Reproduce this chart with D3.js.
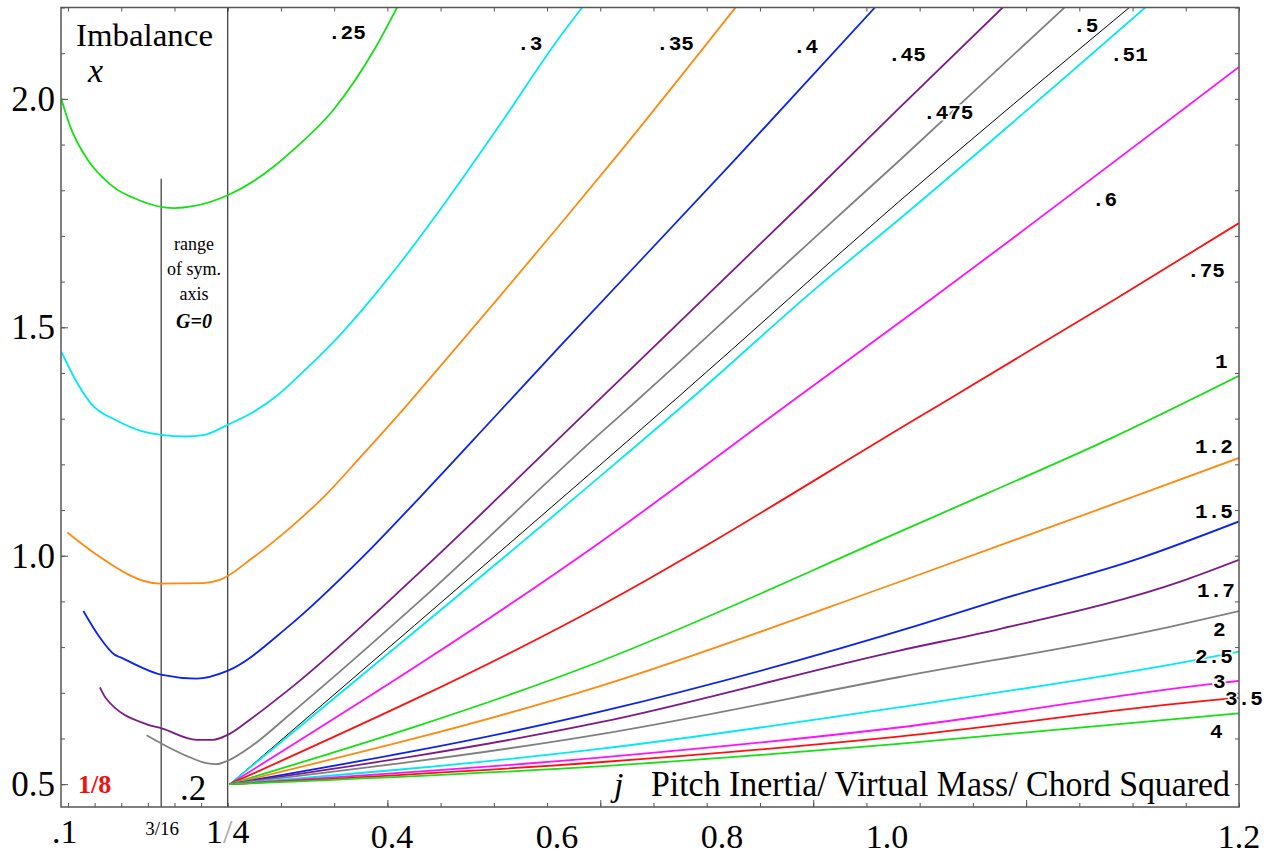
<!DOCTYPE html>
<html>
<head>
<meta charset="utf-8">
<script src="https://cdn.jsdelivr.net/npm/d3@7"></script>
<style>
body { margin: 0; background: #fff; }
</style>
</head>
<body>
<svg id="chart" width="1266" height="856"></svg>
<script>
// curves: [j, x]
const c025 = [[0.0934,2.002],[0.1018,1.941],[0.119,1.865],[0.139,1.814],[0.168,1.777],[0.189,1.763],[0.2003,1.761],[0.2175,1.765],[0.25,1.789],[0.294,1.853],[0.31,1.885],[0.349,1.975],[0.389,2.113],[0.41,2.204]];
const c030 = [[0.0941,1.445],[0.1049,1.394],[0.122,1.332],[0.1457,1.296],[0.1675,1.274],[0.1894,1.264],[0.2098,1.261],[0.227,1.264],[0.2503,1.287],[0.2737,1.314],[0.2956,1.349],[0.3237,1.409],[0.355,1.482],[0.386,1.565],[0.4175,1.657],[0.4488,1.755],[0.505,1.941],[0.564,2.142],[0.583,2.2]];
const c035 = [[0.0994,1.051],[0.1113,1.029],[0.127,1.002],[0.186,0.939],[0.227,0.94],[0.2425,0.947],[0.2737,0.996],[0.311,1.066],[0.3425,1.134],[0.374,1.214],[0.411,1.31],[0.449,1.413],[0.505,1.566],[0.564,1.73],[0.613,1.868],[0.727,2.2]];
const c040 = [[0.1144,0.879],[0.1284,0.826],[0.144,0.783],[0.1488,0.778],[0.1884,0.739],[0.2207,0.731],[0.2497,0.748],[0.308,0.847],[0.375,0.993],[0.433,1.134],[0.5,1.302],[0.564,1.463],[0.727,1.868],[0.858,2.2]];
const c045 = [[0.130,0.712],[0.1356,0.688],[0.174,0.631],[0.188,0.622],[0.2207,0.597],[0.236,0.597],[0.25,0.608],[0.273,0.645],[0.308,0.708],[0.43,0.963],[0.58,1.299],[0.805,1.806],[0.88,1.978],[0.978,2.2]];
const c0475 = [[0.1738,0.607],[0.1884,0.588],[0.2113,0.562],[0.23,0.546],[0.2394,0.544],[0.2497,0.551],[0.2734,0.585],[0.308,0.652],[0.43,0.900],[0.599,1.266],[0.636,1.343],[0.805,1.704],[0.88,1.863],[1.0375,2.203]];
const c050 = [[0.252,0.5],[0.599,1.197],[0.671,1.343],[0.88,1.774],[1.097,2.2]];
const c051 = [[0.252,0.5],[0.599,1.172],[0.685,1.343],[0.805,1.59],[0.88,1.735],[1.112,2.2]];
const c060 = [[0.252,0.5],[0.599,1.028],[0.783,1.343],[0.911,1.562],[1.2,2.07]];
const c075 = [[0.252,0.5],[0.599,0.889],[0.899,1.303],[1.084,1.562],[1.2,1.728]];
const c100 = [[0.252,0.5],[0.599,0.768],[0.88,1.051],[0.964,1.137],[1.075,1.252],[1.2,1.394]];
const c120 = [[0.252,0.5],[0.599,0.714],[0.88,0.942],[1.11,1.137],[1.2,1.214]];
const c150 = [[0.252,0.5],[0.599,0.658],[0.899,0.848],[0.98,0.907],[1.105,0.993],[1.2,1.075]];
const c170 = [[0.252,0.5],[0.599,0.635],[0.88,0.792],[0.974,0.839],[1.147,0.945],[1.2,0.991]];
const c200 = [[0.252,0.5],[0.599,0.609],[0.88,0.734],[1.124,0.839],[1.2,0.879]];
const c250 = [[0.252,0.5],[0.599,0.577],[0.88,0.668],[1.155,0.770],[1.2,0.790]];
const c300 = [[0.252,0.5],[0.599,0.558],[0.88,0.624],[1.173,0.719],[1.2,0.726]];
const c350 = [[0.252,0.5],[0.599,0.548],[0.88,0.604],[1.18,0.685],[1.2,0.689]];
const c400 = [[0.252,0.5],[0.599,0.539],[0.88,0.588],[1.2,0.655]];

const curves = [c025,c030,c035,c040,c045,c0475,c050,c051,c060,c075,c100,c120,c150,c170,c200,c250,c300,c350,c400];
const curveNames = [".25",".3",".35",".4",".45",".475",".5",".51",".6",".75","1","1.2","1.5","1.7","2","2.5","3","3.5","4"];
const curveColors = ["#14e014","#00eaf0","#ff8a10","#0a22f0","#7c1a88","#808080","#000000","#00eaf0","#ff10ff","#ff1010",
                     "#14e014","#ff8a10","#0a22f0","#7c1a88","#808080","#00eaf0","#ff10ff","#ff1010","#14e014"];
// where each curve's name sits, [j, x]
const namePos = [[0.3442,2.131],[0.5218,2.107],[0.6524,2.107],[0.781,2.100],[0.8703,2.083],[0.9032,1.956],[1.0441,2.146],[1.0788,2.083],
                 [1.0619,1.765],[1.1512,1.610],[1.1775,1.411],[1.1587,1.225],[1.1587,1.0825],[1.1606,0.9096],[1.1756,0.8243],
                 [1.1587,0.7652],[1.1756,0.7105],[1.1869,0.6732],[1.1728,0.601]];

// axis labels
const xLabelText = [".1","3/16","1/4","0.4","0.6","0.8","1.0","1.2"];
const xLabelPos = [0.097,0.1883,0.25,0.4043,0.5593,0.7144,0.8694,1.2];
const yLabelVals = [0.5,1.0,1.5,2.0];
const symAxis = [0.1875,0.25];

const svg = d3.select("#chart");
const W = 1266, H = 856;
svg.append("rect").attr("width",W).attr("height",H).attr("fill","#fff");

const xScale = d3.scaleLinear().domain([0.0934,1.2]).range([61,1239]);
const yScale = d3.scaleLinear().domain([0.45,2.2]).range([807,7.5]);

// clip for the curves
svg.append("clipPath").attr("id","plotclip")
   .append("rect")
   .attr("x",xScale.range()[0]).attr("y",yScale.range()[1])
   .attr("width",xScale.range()[1]-xScale.range()[0])
   .attr("height",yScale.range()[0]-yScale.range()[1]);

// frame ticks (inward)
const bottomTicks = [0.1,0.125,0.15,0.175,0.2,0.225].concat(d3.range(0.25,1.2001,0.05));
const topTicks = d3.range(0.1,1.2001,0.05);
const yTicks = d3.range(0.5,2.2001,0.1);

function tickAxis(axis, tx, ty) {
  const g = svg.append("g").attr("transform","translate("+tx+","+ty+")").call(axis);
  g.select(".domain").remove();
  g.selectAll("line").attr("stroke","#555").attr("stroke-width",1);
  g.selectAll("text").remove();
}
tickAxis(d3.axisBottom(xScale).tickValues(bottomTicks).tickSize(-4).tickSizeOuter(0), 0, 807);
tickAxis(d3.axisBottom(xScale).tickValues([0.4,0.6,0.8,1.0]).tickSize(-7).tickSizeOuter(0), 0, 807);
tickAxis(d3.axisTop(xScale).tickValues(topTicks).tickSize(-4).tickSizeOuter(0), 0, 7.5);
tickAxis(d3.axisLeft(yScale).tickValues(yTicks).tickSize(-4).tickSizeOuter(0), 61, 0);
tickAxis(d3.axisLeft(yScale).tickValues(yLabelVals).tickSize(-7).tickSizeOuter(0), 61, 0);
tickAxis(d3.axisRight(yScale).tickValues(yTicks).tickSize(-4).tickSizeOuter(0), 1239, 0);

// sym. axis range lines
svg.append("line").attr("x1",xScale(symAxis[0])).attr("x2",xScale(symAxis[0]))
   .attr("y1",yScale(1.825)).attr("y2",yScale(0.45))
   .attr("stroke","#333").attr("stroke-width",1.2);
svg.append("line").attr("x1",xScale(symAxis[1])).attr("x2",xScale(symAxis[1]))
   .attr("y1",yScale(2.2)).attr("y2",yScale(0.45))
   .attr("stroke","#333").attr("stroke-width",1.2);

// curves
const line = d3.line()
  .x(function (d) { return xScale(d[0]); })
  .y(function (d) { return yScale(d[1]); })
  .curve(d3.curveMonotoneX);

svg.append("g").attr("clip-path","url(#plotclip)")
  .selectAll("path")
  .data(curves)
  .join("path")
  .attr("d", line)
  .attr("fill","none")
  .attr("stroke", function (d, i) { return curveColors[i]; })
  .attr("stroke-width", function (d, i) { return curveNames[i] === ".5" ? 1 : 1.8; })
  .attr("stroke-linejoin","round");

// frame
svg.append("rect")
   .attr("x",61).attr("y",7.5).attr("width",1178).attr("height",799.5)
   .attr("fill","none").attr("stroke","#555").attr("stroke-width",1.5);

// curve names
svg.append("g").selectAll("text")
  .data(curveNames)
  .join("text")
  .attr("x", function (d, i) { return xScale(namePos[i][0]); })
  .attr("y", function (d, i) { return yScale(namePos[i][1]); })
  .attr("font-family","'Liberation Mono', 'DejaVu Sans Mono', monospace")
  .attr("font-weight","bold")
  .attr("font-size",21)
  .attr("fill","#000")
  .attr("stroke","#fff").attr("stroke-width",3).attr("paint-order","stroke")
  .text(function (d) { return d; });

// axis numbers
const serif = "'Liberation Serif', 'DejaVu Serif', serif";
svg.append("g").selectAll("text")
  .data(yLabelVals)
  .join("text")
  .attr("x",55)
  .attr("y", function (d) { return yScale(d) + 12; })
  .attr("text-anchor","end")
  .attr("font-family",serif).attr("font-size",35)
  .text(function (d) { return d.toFixed(1); });

svg.append("g").selectAll("text")
  .data(xLabelText)
  .join("text")
  .attr("x", function (d, i) { return xScale(xLabelPos[i]); })
  .attr("y", function (d) { return d === "3/16" ? 835 : (d === ".1" || d === "1/4" ? 843 : 848); })
  .attr("text-anchor","middle")
  .attr("font-family",serif)
  .attr("font-size", function (d) { return d === "3/16" ? 19 : 34; })
  .each(function (d) {
    const t = d3.select(this);
    if (d === "1/4") {
      t.append("tspan").text("1");
      t.append("tspan").attr("fill","#aaa").text("/");
      t.append("tspan").text("4");
    } else {
      t.text(d);
    }
  });

// annotations
svg.append("text").attr("x",76).attr("y",46)
   .attr("font-family",serif).attr("font-size",32)
   .attr("textLength",137).attr("lengthAdjust","spacingAndGlyphs").text("Imbalance");
svg.append("text").attr("x",88).attr("y",82)
   .attr("font-family",serif).attr("font-style","italic").attr("font-size",34).text("x");

const symText = ["range","of sym.","axis"];
svg.append("g").selectAll("text")
  .data(symText)
  .join("text")
  .attr("x",194)
  .attr("y", function (d, i) { return 250 + i * 25; })
  .attr("text-anchor","middle")
  .attr("font-family",serif).attr("font-size",18)
  .text(function (d) { return d; });
svg.append("text").attr("x",194).attr("y",328).attr("text-anchor","middle")
   .attr("font-family",serif).attr("font-style","italic").attr("font-weight","bold")
   .attr("font-size",20).text("G=0");

svg.append("text").attr("x",78).attr("y",793)
   .attr("font-family",serif).attr("font-weight","bold").attr("font-size",26)
   .attr("fill","#f01010").text("1/8");
svg.append("text").attr("x",180).attr("y",800)
   .attr("font-family",serif).attr("font-size",35).text(".2");

svg.append("text").attr("x",614).attr("y",796)
   .attr("font-family",serif).attr("font-style","italic").attr("font-size",34).text("j");
svg.append("text").attr("x",651).attr("y",796)
   .attr("font-family",serif).attr("font-size",36)
   .attr("textLength",579).attr("lengthAdjust","spacingAndGlyphs")
   .attr("fill","#000")
   .attr("stroke","#fff").attr("stroke-width",3).attr("paint-order","stroke")
   .text("Pitch Inertia/  Virtual Mass/ Chord Squared");
</script>
</body>
</html>
